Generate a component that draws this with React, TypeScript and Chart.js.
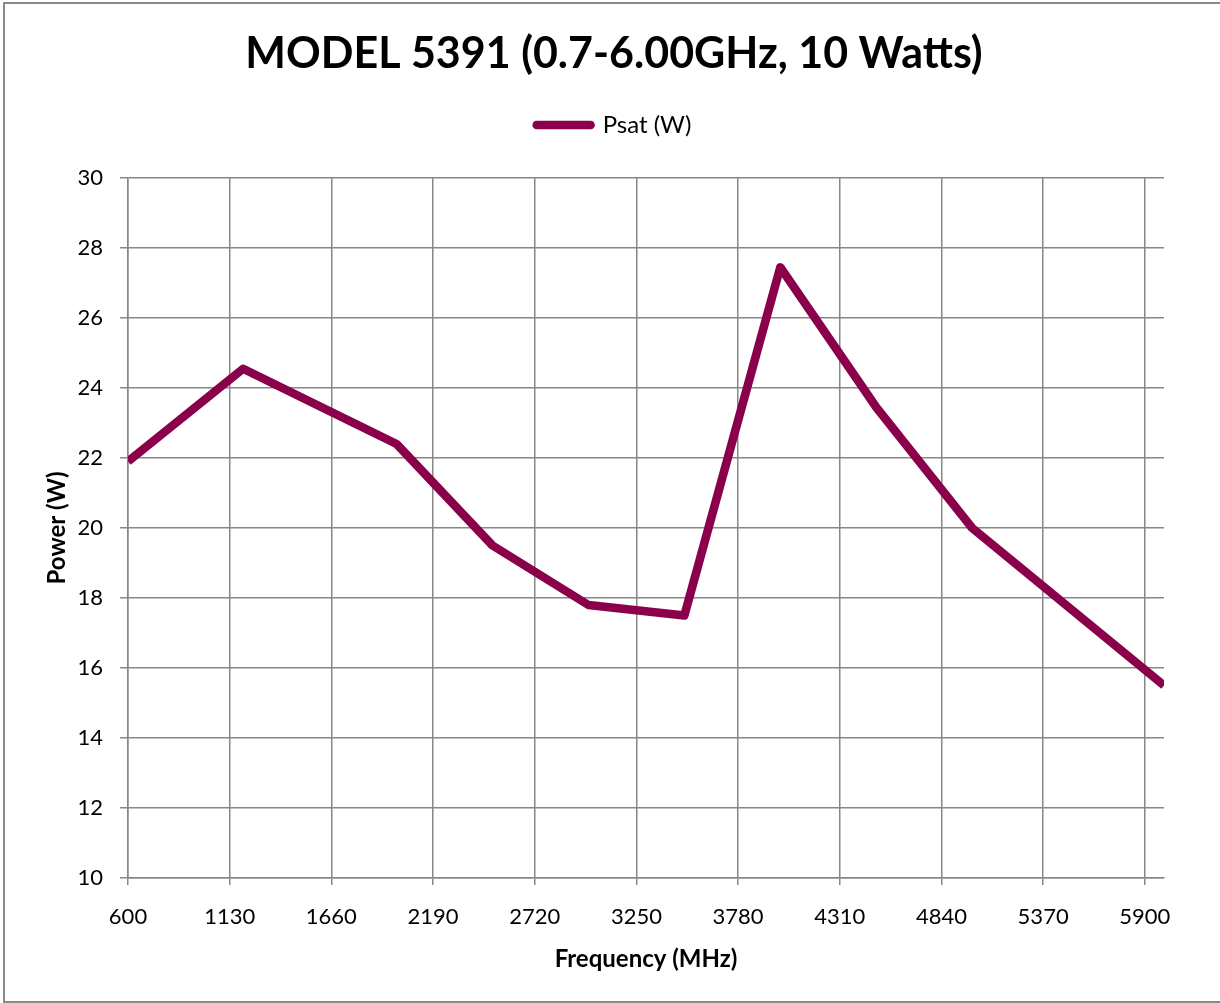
import React, { useEffect, useRef } from 'react';
import { Chart, registerables } from 'chart.js';

Chart.register(...registerables);

// ---- data ----
const CHART_TITLE = 'MODEL 5391 (0.7-6.00GHz, 10 Watts)';
const SERIES_LABEL = 'Psat (W)';
const X_TITLE = 'Frequency (MHz)';
const Y_TITLE = 'Power (W)';
const FREQ_MHZ = [600, 1200, 2000, 2500, 3000, 3500, 4000, 4500, 5000, 6000];
const PSAT_W = [21.9, 24.55, 22.4, 19.5, 17.8, 17.5, 27.45, 23.45, 20.0, 15.5];
const X_TICKS = [600, 1130, 1660, 2190, 2720, 3250, 3780, 4310, 4840, 5370, 5900];
const Y_TICKS = [10, 12, 14, 16, 18, 20, 22, 24, 26, 28, 30];
const X_MIN = 600;
const X_MAX = 6000;
const Y_MIN = 10;
const Y_MAX = 30;

// ---- styles ----
const LINE_COLOR = '#8B004B';
const GRID_COLOR = '#878787';
const FONT = 'Lato';

const frame = {
  id: 'outerFrame',
  beforeDraw(chart: any) {
    const ctx = chart.ctx;
    ctx.save();
    ctx.strokeStyle = '#898989';
    ctx.lineWidth = 2;
    ctx.strokeRect(4, 3, 1300, 999);
    ctx.restore();
  },
};

const legendSpacer = {
  id: 'legendSpacer',
  beforeLayout(chart: any) {
    const lg = chart.legend;
    if (lg && !lg.__spaced) {
      const orig = lg.fit.bind(lg);
      lg.fit = function () {
        orig();
        this.height += 31;
      };
      lg.__spaced = true;
    }
  },
};

export default function App() {
  const ref = useRef<HTMLCanvasElement | null>(null);

  useEffect(() => {
    if (!ref.current) return;
    const tickFont = { family: FONT, size: 22 };
    const axisTitleFont = { family: FONT, size: 24, weight: 'bold', lineHeight: 1.2 };
    const chart = new Chart(ref.current, {
      type: 'line',
      data: {
        datasets: [
          {
            label: SERIES_LABEL,
            data: FREQ_MHZ.map((f, i) => ({ x: f, y: PSAT_W[i] })),
            borderColor: LINE_COLOR,
            backgroundColor: LINE_COLOR,
            borderWidth: 8.5,
            borderJoinStyle: 'round',
            borderCapStyle: 'butt',
            pointRadius: 0,
            pointHoverRadius: 0,
            tension: 0,
            clip: 0,
            yAxisID: 'y',
          } as any,
        ],
      },
      options: {
        animation: false,
        responsive: false,
        devicePixelRatio: 1,
        events: [],
        layout: { padding: { left: 8, right: 0, top: 0, bottom: 0 } },
        plugins: {
          title: {
            display: true,
            text: CHART_TITLE,
            color: '#000',
            font: { family: FONT, size: 43, weight: 'bold', lineHeight: 1.2 },
            padding: { top: 28, bottom: 24.4 },
          },
          legend: {
            display: true,
            position: 'top',
            labels: {
              color: '#000',
              font: { family: FONT, size: 24 },
              usePointStyle: true,
              pointStyleWidth: 54,
              padding: 9,
              generateLabels: (c: any) =>
                c.data.datasets.map((ds: any, i: number) => ({
                  text: ds.label,
                  fillStyle: LINE_COLOR,
                  strokeStyle: LINE_COLOR,
                  lineWidth: 8.5,
                  lineCap: 'round',
                  pointStyle: 'line',
                  hidden: false,
                  datasetIndex: i,
                  fontColor: '#000',
                })),
            },
          },
          tooltip: { enabled: false },
        },
        scales: {
          x: {
            type: 'linear',
            position: 'bottom',
            min: X_MIN,
            max: X_MAX,
            afterBuildTicks: (s: any) => {
              s.ticks = X_TICKS.map((v) => ({ value: v }));
            },
            afterFit: (s: any) => {
              s.height = 125;
            },
            ticks: {
              font: tickFont,
              color: '#000',
              padding: 19,
              maxRotation: 0,
              autoSkip: false,
              callback: (v: any) => String(v),
            },
            grid: { color: GRID_COLOR, lineWidth: 1.5, tickLength: 7, drawTicks: true },
            border: { color: GRID_COLOR, width: 1.5 },
            title: {
              display: true,
              text: X_TITLE,
              color: '#000',
              font: axisTitleFont,
              padding: { top: 0, bottom: 29.6 },
            },
          },
          y: {
            type: 'linear',
            position: 'left',
            min: Y_MIN,
            max: Y_MAX,
            afterBuildTicks: (s: any) => {
              s.ticks = Y_TICKS.map((v) => ({ value: v }));
            },
            afterFit: (s: any) => {
              s.width = 120;
            },
            ticks: {
              font: tickFont,
              color: '#000',
              padding: 17,
              callback: (v: any) => String(v),
            },
            grid: { color: GRID_COLOR, lineWidth: 1.5, tickLength: 8, drawTicks: true },
            border: { color: GRID_COLOR, width: 1.5 },
            title: {
              display: true,
              text: Y_TITLE,
              color: '#000',
              font: axisTitleFont,
              padding: { top: 34.6, bottom: 0 },
            },
          },
          yRight: {
            type: 'linear',
            position: 'right',
            min: Y_MIN,
            max: Y_MAX,
            display: true,
            afterFit: (s: any) => {
              s.width = 56;
            },
            ticks: { display: false },
            grid: { display: false, drawTicks: false },
            border: { display: false },
          },
        },
      } as any,
      plugins: [frame, legendSpacer],
    });
    return () => chart.destroy();
  }, []);

  return (
    <div style={{ position: 'absolute', left: 0, top: 0, width: 1220, height: 1003, background: '#fff' }}>
      <canvas ref={ref} width={1220} height={1003} style={{ display: 'block', width: 1220, height: 1003 }} />
    </div>
  );
}
